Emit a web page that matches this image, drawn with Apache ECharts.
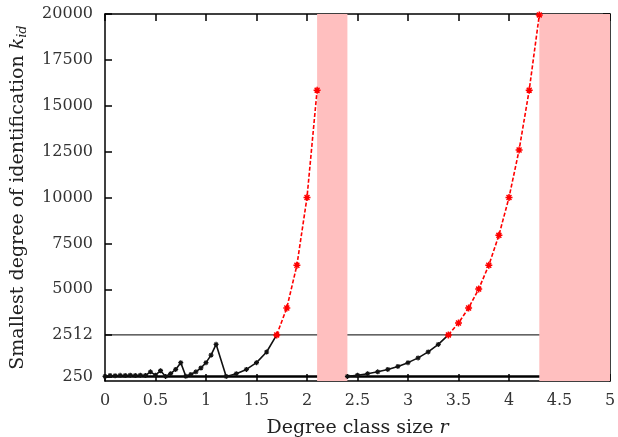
<!DOCTYPE html>
<html>
<head>
<meta charset="utf-8">
<script src="https://cdn.jsdelivr.net/npm/echarts@6/dist/echarts.min.js"></script>
<style>
  html, body { margin: 0; padding: 0; background: #fff; }
  #chart { width: 618px; height: 437px; }
</style>
</head>
<body>
<div id="chart"></div>
<script>
'use strict'
// black (below threshold), first block
var blackAX = [0, 0.05, 0.1, 0.15, 0.2, 0.25, 0.3, 0.35, 0.4, 0.45, 0.5, 0.55, 0.6, 0.65, 0.7, 0.75, 0.8, 0.85, 0.9, 0.95, 1.0, 1.05, 1.1, 1.2, 1.3, 1.4, 1.5, 1.6, 1.7]
var blackAY = [250, 300, 290, 310, 300, 320, 300, 320, 300, 500, 320, 560, 250, 400, 630, 1000, 260, 360, 500, 710, 1000, 1410, 2000, 250, 400, 630, 1000, 1580, 2512]
// black, second block
var blackBX = [2.4, 2.5, 2.6, 2.7, 2.8, 2.9, 3.0, 3.1, 3.2, 3.3, 3.4]
var blackBY = [250, 316, 398, 501, 631, 794, 1000, 1259, 1585, 1995, 2512]
// red (above threshold)
var redAX = [1.7, 1.8, 1.9, 2.0, 2.1]
var redAY = [2512, 3980, 6310, 10000, 15850]
var redBX = [3.4, 3.5, 3.6, 3.7, 3.8, 3.9, 4.0, 4.1, 4.2, 4.3]
var redBY = [2512, 3160, 3980, 5010, 6310, 7940, 10000, 12590, 15850, 19950]
// shaded r ranges
var bands = [[2.1, 2.4], [4.3, 5]]
var yTicks = [250, 2512, 5000, 7500, 10000, 12500, 15000, 17500, 20000]

var FONT = 'DejaVu Serif'
var STAR = 'path://M0,5L10,5M5,0L5,10M1.5,1.5L8.5,8.5M8.5,1.5L1.5,8.5'

function pairs(xs, ys) {
  return xs.map(function(x, i) { return [x, ys[i]] })
}

var chart = echarts.init(document.getElementById('chart'))

function axisLine() {
  return { show: true, onZero: false, lineStyle: { color: '#000', width: 1.5 } }
}
function tick(custom) {
  var t = { show: true, inside: true, length: 7, lineStyle: { color: '#000', width: 1.5 } }
  if (custom) t.customValues = custom
  return t
}

function blackSeries(data) {
  return {
    type: 'line',
    data: data,
    z: 4,
    symbol: STAR,
    symbolSize: 5,
    showAllSymbol: true,
    lineStyle: { color: '#111', width: 1.6 },
    itemStyle: { color: '#111', borderColor: '#111', borderWidth: 1.2 }
  }
}
function redSeries(data) {
  return {
    type: 'line',
    data: data,
    z: 4,
    symbol: STAR,
    symbolSize: 7,
    showAllSymbol: true,
    lineStyle: { color: '#f00', width: 1.6, type: [4, 2] },
    itemStyle: { color: '#f00', borderColor: '#f00', borderWidth: 1.5 }
  }
}

var option = {
  animation: false,
  grid: { left: 105, right: 8, top: 14, bottom: 56, outerBoundsMode: 'none' },
  xAxis: [
    {
      type: 'value',
      min: 0,
      max: 5,
      interval: 0.5,
      name: 'Degree class size {i|r}',
      nameLocation: 'middle',
      nameGap: 38,
      nameTextStyle: {
        fontFamily: FONT, fontSize: 19, color: '#222',
        rich: { i: { fontFamily: FONT, fontStyle: 'italic', fontSize: 19, color: '#222' } }
      },
      axisLine: axisLine(),
      axisTick: tick(),
      splitLine: { show: false },
      axisLabel: { fontFamily: FONT, fontSize: 16, color: '#333', margin: 12 }
    },
    {
      type: 'value',
      min: 0,
      max: 5,
      interval: 0.5,
      position: 'top',
      axisLine: axisLine(),
      axisTick: tick(),
      splitLine: { show: false },
      axisLabel: { show: false }
    }
  ],
  yAxis: [
    {
      type: 'value',
      min: 0,
      max: 20000,
      name: 'Smallest degree of identification {i|k}{s|id}',
      nameLocation: 'middle',
      nameGap: 76,
      nameTextStyle: {
        fontFamily: FONT, fontSize: 19, color: '#222',
        rich: {
          i: { fontFamily: FONT, fontStyle: 'italic', fontSize: 19, color: '#222' },
          s: { fontFamily: FONT, fontStyle: 'italic', fontSize: 13, color: '#222', verticalAlign: 'bottom', padding: [8, 0, 0, 0] }
        }
      },
      axisLine: axisLine(),
      axisTick: tick(yTicks),
      splitLine: { show: false },
      axisLabel: {
        fontFamily: FONT, fontSize: 16, color: '#333', margin: 12, customValues: yTicks,
        formatter: function(v) { return String(v) }
      }
    },
    {
      type: 'value',
      min: 0,
      max: 20000,
      position: 'right',
      axisLine: axisLine(),
      axisTick: tick(yTicks),
      splitLine: { show: false },
      axisLabel: { show: false, customValues: yTicks }
    }
  ],
  series: [
    // threshold lines, drawn under the shaded bands
    {
      type: 'line', z: 1, symbol: 'none', silent: true,
      data: [[0, 250], [5, 250]],
      lineStyle: { color: '#000', width: 2.5 }
    },
    {
      type: 'line', z: 1, symbol: 'none', silent: true,
      data: [[0, 2512], [5, 2512]],
      lineStyle: { color: '#000', width: 1 },
      markArea: {
        silent: true,
        z: 3,
        itemStyle: { color: '#ffbfbf' },
        data: bands.map(function(b) { return [{ xAxis: b[0] }, { xAxis: b[1] }] })
      }
    },
    blackSeries(pairs(blackAX, blackAY)),
    blackSeries(pairs(blackBX, blackBY)),
    redSeries(pairs(redAX, redAY)),
    redSeries(pairs(redBX, redBY))
  ]
}

chart.setOption(option)
</script>
</body>
</html>
